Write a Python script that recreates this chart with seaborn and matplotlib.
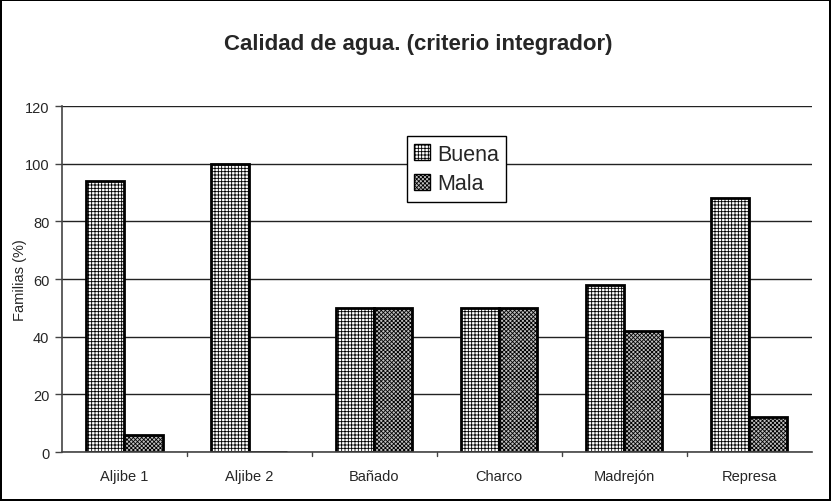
import matplotlib
matplotlib.use("Agg")
import matplotlib.pyplot as plt
import seaborn as sns
import pandas as pd

categories = ["Aljibe 1", "Aljibe 2", "Bañado", "Charco", "Madrejón", "Represa"]
buena = [94, 100, 50, 50, 58, 88]
mala = [6, 0, 50, 50, 42, 12]
series = ["Buena", "Mala"]
yticks = [0, 20, 40, 60, 80, 100, 120]

sns.set_theme(style="white")
plt.rcParams['font.family'] = ['Liberation Sans', 'DejaVu Sans']
plt.rcParams['hatch.linewidth'] = 0.6

df = pd.DataFrame({
    "cat": categories * 2,
    "serie": [series[0]] * len(categories) + [series[1]] * len(categories),
    "val": buena + mala,
})

fig = plt.figure(figsize=(8.31, 5.02), dpi=100)
fig.patch.set_edgecolor("black")
fig.patch.set_linewidth(1.5)
ax = fig.add_axes([0.0746, 0.0976, 0.902, 0.689])

sns.barplot(data=df, x="cat", y="val", hue="serie", order=categories,
            hue_order=series, palette=["white", "#c0c0c0"], width=0.61,
            edgecolor="black", linewidth=2, ax=ax, legend=True)

hatches = {"Buena": "+++++", "Mala": "xxxxxxxx"}
for cont, s in zip(ax.containers, series):
    for bar in cont:
        bar.set_hatch(hatches[s])
        bar.set_edgecolor("black")

ax.set_ylim(0, 120)
ax.set_xlim(-0.5, len(categories) - 0.5)
ax.set_yticks(yticks)
ax.set_yticklabels([str(t) for t in yticks], fontsize=10.5)
ax.set_axisbelow(True)
ax.yaxis.grid(True, color="#222222", linewidth=1)
ax.xaxis.grid(False)
ax.set_xticks(range(len(categories)))
ax.set_xticklabels(categories, fontsize=10.5)
ax.tick_params(axis="x", length=0, pad=12)
ax.tick_params(axis="y", length=5, width=1, color="#444444", direction="out", left=True, pad=4)
for b in [i + 0.5 for i in range(len(categories) - 1)]:
    ax.plot([b, b], [0, -1.5], color="#444444", lw=1, clip_on=False)

for sp in ["top", "right"]:
    ax.spines[sp].set_visible(False)
for sp in ["left", "bottom"]:
    ax.spines[sp].set_color("#444444")
    ax.spines[sp].set_linewidth(1.2)

ax.set_xlabel("")
ax.set_ylabel("Familias (%)", fontsize=10.5)
ax.yaxis.set_label_coords(-0.047, 0.5)

fig.text(0.503, 0.912, "Calidad de agua. (criterio integrador)", ha="center",
         va="center", fontsize=16, fontweight="bold")

handles, labels = ax.get_legend_handles_labels()
leg = ax.legend(handles, labels, loc="upper left", bbox_to_anchor=(0.46, 0.913),
                fontsize=15.5, frameon=True, fancybox=False, framealpha=1,
                edgecolor="black", handlelength=0.75, handleheight=0.75,
                handletextpad=0.3, borderpad=0.35, labelspacing=0.4, borderaxespad=0)
leg.get_frame().set_linewidth(1)
for p, s in zip(leg.get_patches(), series):
    p.set_hatch(hatches[s])
    p.set_edgecolor("black")
    p.set_linewidth(1)

fig.savefig("out.png", dpi=100)
